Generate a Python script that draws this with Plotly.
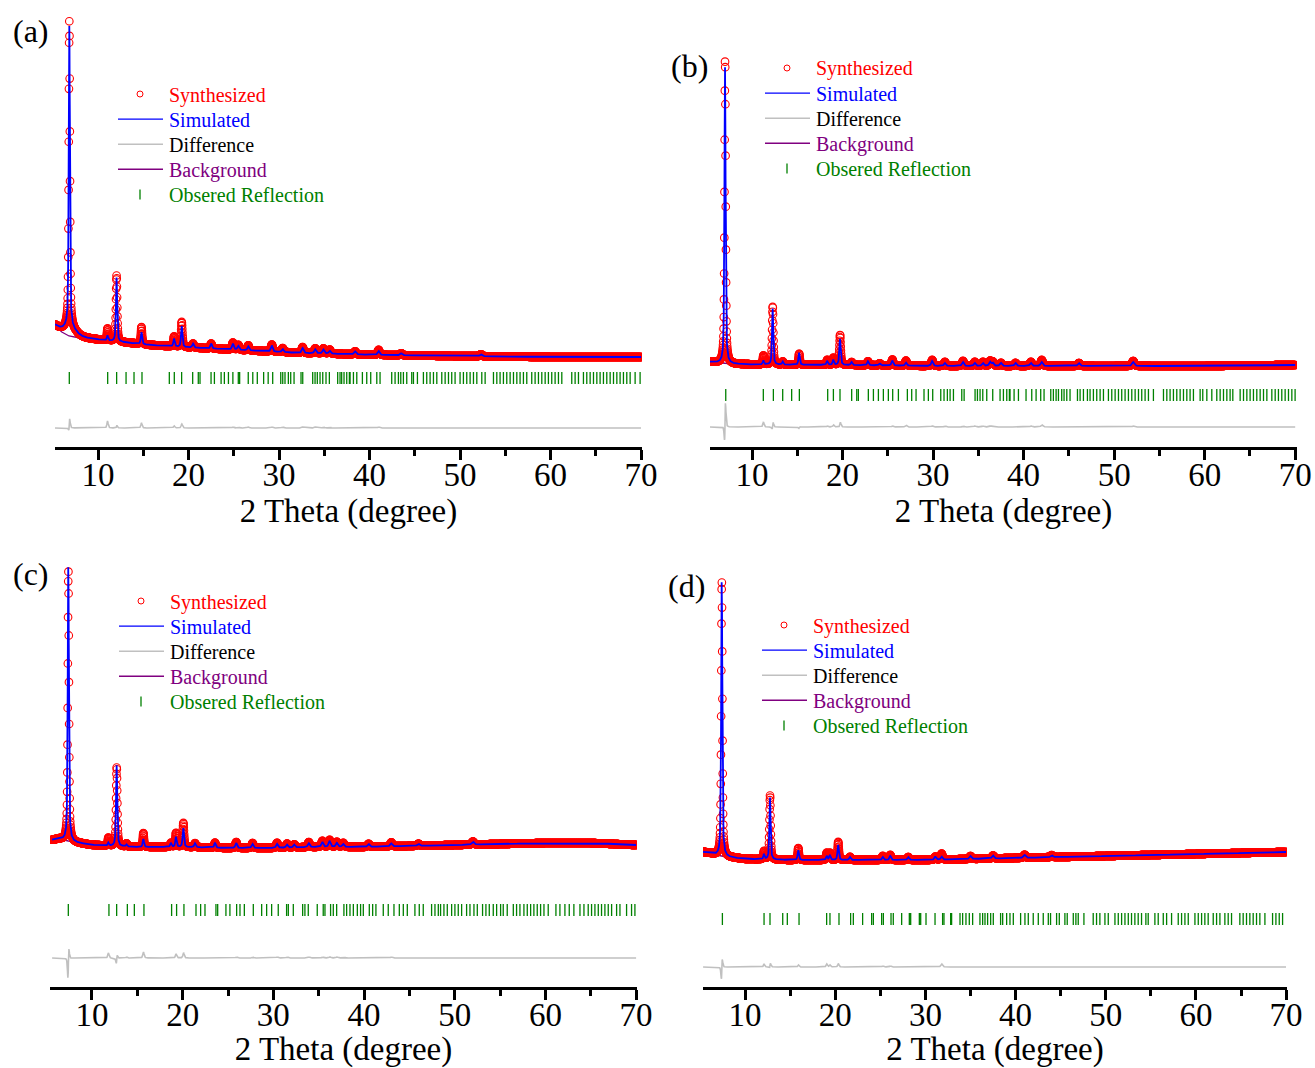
import numpy as np
import plotly.graph_objects as go

FONT = "Liberation Serif"
W, H = 1315, 1068

# ---------------- Panel (a) ----------------
a_range = [5.25, 70.0]
a_bg_x = [5.25, 6.0, 6.8, 8.0, 10.2, 12.4, 15.7, 19.1, 23.5, 27.9, 32.3, 36.7, 41.2, 48.9, 60.0, 70.0]
a_bg_y = [121, 115, 111, 109, 107, 105, 102, 100, 98, 96, 94, 93, 92, 91, 90, 90]
a_pk_pos = [6.83, 6.9, 11.05, 12.05, 14.8, 18.4, 19.25, 20.5, 22.5, 24.9, 25.5, 26.6, 29.2, 30.4, 32.6, 34.0, 34.9, 35.6, 38.4, 41.0, 43.5, 52.3]
a_pk_obs = [306, 9, 12, 66, 17, 10, 25, 4, 5, 7, 5, 5, 7, 4, 6, 5, 5, 4, 3, 5, 2, 2]
a_pk_calc = [301, 9, 5, 64, 12, 8, 21, 4, 5, 6, 4, 4, 6, 3, 5, 4, 4, 3, 3, 4, 2, 2]
a_pk_fwhm = [0.15, 1.6, 0.16, 0.16, 0.17, 0.18, 0.18, 0.2, 0.2, 0.22, 0.22, 0.22, 0.24, 0.24, 0.25, 0.25, 0.25, 0.25, 0.26, 0.27, 0.28, 0.3]
a_shift = 0.002
a_diff_offset = 19
a_tick_row = 69
a_refl = [6.83, 11.07, 12.06, 13.1, 13.98, 14.86, 17.88, 18.43, 19.24, 20.46, 21.08, 21.27, 22.49, 22.86,
          23.6, 23.96, 24.41, 24.9, 25.5, 25.65, 26.6, 27.1, 27.6, 28.3, 28.8, 29.3, 30.19, 30.41, 30.66,
          31.03, 31.29, 31.66, 32.43, 32.62, 33.72, 33.98, 34.23, 34.53, 34.83, 35.19, 35.56, 36.48, 36.74,
          36.92, 37.18, 37.48, 37.77, 37.85, 38.22, 38.59, 39.21, 39.69, 40.13, 40.8, 41.16, 42.45, 42.82,
          43.19, 43.45, 43.74, 44.11, 44.66, 44.85, 45.29, 45.95, 46.32, 46.69, 47.06, 47.43, 47.98, 48.35,
          48.72, 49.08, 49.45, 50.0, 50.37, 50.74, 51.11, 51.48, 51.85, 52.4, 52.77, 53.69, 54.06, 54.42,
          54.79, 55.16, 55.53, 55.9, 56.27, 56.63, 57.0, 57.37, 57.92, 58.29, 58.66, 59.03, 59.4, 59.76,
          60.13, 60.5, 60.87, 61.24, 62.34, 62.71, 63.08, 63.63, 64.0, 64.37, 64.74, 65.11, 65.47, 65.84,
          66.21, 66.58, 66.95, 67.32, 67.68, 68.05, 68.42, 68.79, 69.34, 69.89]

# ---------------- Panel (b) ----------------
b_range = [5.36, 70.0]
b_bg_x = [5.36, 6.5, 8.0, 10.0, 20.0, 30.0, 40.0, 50.0, 60.0, 70.0]
b_bg_y = [85, 84, 83, 82.5, 82, 81, 81, 81, 81, 82]
b_pk_pos = [7.02, 11.25, 12.28, 13.39, 15.2, 18.3, 18.98, 19.72, 21.0, 22.8, 24.1, 25.5, 27.0, 29.9, 31.3, 33.3, 34.6, 35.5, 36.3, 36.6, 37.5, 39.1, 40.8, 42.0, 46.1, 52.1]
b_pk_obs = [304, 9, 58, 3, 11, 5, 7, 30, 3, 4, 2, 6, 5, 6, 4, 5, 4, 4, 5, 4, 3, 3, 4, 6, 3, 5]
b_pk_calc = [296, 4, 56, 3, 12, 4, 5, 26, 3, 4, 2, 5, 3, 5, 3, 4, 3, 3, 4, 3, 3, 3, 3, 4, 3, 4]
b_pk_fwhm = [0.15, 0.16, 0.16, 0.17, 0.17, 0.18, 0.18, 0.18, 0.2, 0.2, 0.22, 0.22, 0.22, 0.24, 0.24, 0.25, 0.25, 0.25, 0.25, 0.25, 0.26, 0.26, 0.27, 0.27, 0.28, 0.3]
b_shift = 0.007
b_diff_offset = 20
b_tick_row = 52
b_refl = [7.1, 11.25, 12.36, 13.39, 14.38, 15.23, 18.36, 18.99, 19.72, 21.01, 21.57, 21.75, 22.85, 23.41,
          23.96, 24.51, 25.06, 25.54, 26.17, 27.16, 27.64, 28.12, 29.0, 29.48, 29.96, 30.85, 31.21, 31.58,
          31.88, 32.25, 33.17, 33.43, 34.64, 34.9, 35.19, 35.49, 35.93, 36.59, 37.4, 37.77, 38.14, 38.43,
          38.5, 38.95, 39.43, 40.27, 40.9, 41.38, 41.89, 42.26, 43.0, 43.29, 43.59, 43.85, 44.21, 44.47,
          44.77, 45.13, 45.95, 46.24, 46.61, 47.05, 47.34, 47.71, 48.08, 48.45, 48.82, 49.37, 49.74, 50.11,
          50.48, 50.84, 51.21, 51.58, 51.95, 52.32, 52.69, 53.05, 53.42, 53.79, 54.34, 55.45, 55.82, 56.18,
          56.55, 56.92, 57.29, 57.66, 58.03, 58.39, 58.76, 59.5, 59.79, 60.24, 60.79, 61.34, 61.71, 62.08,
          62.45, 62.81, 63.11, 63.92, 64.29, 64.66, 65.02, 65.39, 65.76, 66.13, 66.5, 66.87, 67.42, 67.79,
          68.15, 68.52, 68.89, 69.26, 69.63, 69.99]

# ---------------- Panel (c) ----------------
c_range = [5.6, 70.0]
c_bg_x = [5.6, 6.4, 7.4, 8.5, 10.0, 12.0, 15.0, 20.0, 25.0, 30.0, 35.0, 40.0, 45.0, 50.0, 55.0, 60.0, 65.0, 70.0]
c_bg_y = [147, 148, 146, 144, 142, 141, 140, 140, 139, 139, 140, 140, 141, 142, 143, 144, 144, 142]
c_pk_pos = [7.39, 11.8, 12.72, 13.8, 15.66, 18.7, 19.26, 20.07, 21.36, 23.56, 25.9, 27.7, 30.4, 31.5, 32.3, 33.9, 35.4, 36.2, 37.0, 37.7, 40.5, 43.0, 46.0, 52.0]
c_pk_obs = [270, 8, 79, 3, 14, 4, 14, 24, 4, 5, 6, 5, 5, 4, 3, 5, 6, 7, 5, 4, 3, 4, 2, 3]
c_pk_calc = [278, 3, 81, 2, 8, 4, 10, 19, 4, 5, 5, 4, 4, 3, 3, 4, 5, 6, 4, 3, 3, 3, 2, 3]
c_pk_fwhm = [0.15, 0.16, 0.16, 0.17, 0.17, 0.18, 0.18, 0.18, 0.2, 0.2, 0.22, 0.22, 0.24, 0.24, 0.24, 0.25, 0.25, 0.25, 0.25, 0.26, 0.27, 0.27, 0.28, 0.3]
c_shift = 0.006
c_diff_offset = 29
c_tick_row = 77
c_refl = [7.39, 11.87, 12.72, 13.9, 14.67, 15.73, 18.78, 19.33, 20.14, 21.47, 21.98, 22.46, 23.67, 23.86,
          24.77, 25.21, 25.95, 26.32, 26.8, 27.79, 28.71, 29.26, 29.81, 30.54, 31.46, 31.65, 32.2, 33.23,
          33.48, 33.85, 34.84, 35.5, 35.69, 36.31, 36.61, 36.98, 37.78, 38.08, 38.45, 38.82, 39.26, 39.62,
          39.92, 40.58, 40.95, 41.31, 42.12, 42.67, 43.3, 43.89, 44.33, 44.77, 45.61, 46.09, 46.53, 47.45,
          47.82, 48.19, 48.44, 48.81, 49.18, 49.66, 50.02, 50.39, 50.76, 51.31, 51.68, 52.12, 52.49, 53.07,
          53.44, 53.81, 54.25, 54.62, 55.06, 55.35, 55.79, 56.46, 56.82, 57.19, 57.63, 58.0, 58.37, 58.73,
          59.1, 59.47, 59.84, 60.31, 61.16, 61.6, 62.15, 62.63, 63.14, 63.81, 64.25, 64.72, 65.09, 65.46,
          65.83, 66.19, 66.56, 66.93, 67.3, 67.85, 68.22, 68.95, 69.5, 69.87]

# ---------------- Panel (d) ----------------
d_range = [5.35, 70.0]
d_bg_x = [5.35, 6.0, 6.8, 8.0, 10.0, 15.0, 20.0, 30.0, 40.0, 50.0, 60.0, 70.0]
d_bg_y = [135, 134, 132, 130, 128, 127, 127, 127, 129, 131, 133, 135]
d_pk_pos = [7.42, 12.1, 12.77, 15.9, 19.06, 19.4, 20.33, 21.64, 25.27, 26.1, 28.1, 31.1, 31.8, 35.0, 37.5, 41.0, 44.0]
d_pk_obs = [275, 8, 64, 12, 7, 7, 18, 3, 4, 5, 3, 3, 6, 3, 3, 3, 2]
d_pk_calc = [278, 5, 62, 10, 4, 5, 15, 3, 3, 4, 3, 3, 3, 3, 3, 3, 2]
d_pk_fwhm = [0.15, 0.16, 0.16, 0.17, 0.18, 0.18, 0.18, 0.2, 0.22, 0.22, 0.23, 0.24, 0.24, 0.25, 0.26, 0.27, 0.28]
d_shift = 0.004
d_diff_offset = 20
d_tick_row = 68
d_refl = [7.49, 12.11, 12.77, 14.18, 14.69, 15.99, 19.05, 19.42, 20.42, 21.71, 22.01, 23.04, 24.04, 24.23,
          25.15, 25.34, 26.19, 26.44, 27.37, 28.22, 28.37, 29.33, 29.48, 30.07, 31.07, 31.91, 32.06, 32.8,
          32.91, 33.84, 34.13, 34.5, 34.87, 35.24, 36.05, 36.35, 36.61, 36.9, 37.24, 37.53, 38.34, 38.57,
          39.01, 39.38, 39.75, 40.56, 41.04, 41.41, 41.96, 42.52, 43.07, 43.63, 43.88, 44.55, 44.85, 45.47,
          45.73, 46.4, 46.69, 46.95, 47.58, 48.61, 48.98, 49.35, 49.91, 50.28, 51.02, 51.39, 51.76, 52.13,
          52.5, 52.86, 53.23, 53.6, 53.97, 54.45, 54.71, 55.45, 55.82, 56.38, 56.75, 57.3, 58.04, 58.41,
          58.78, 59.15, 59.89, 60.26, 60.63, 60.99, 61.36, 61.92, 62.29, 62.66, 63.21, 63.58, 63.95, 64.87,
          65.24, 65.61, 65.98, 66.35, 66.72, 67.09, 67.65, 68.5, 68.87, 69.24, 69.61]

legend_labels = ["Synthesized", "Simulated", "Difference", "Background", "Obsered Reflection"]
legend_colors = ["#ff0000", "#0000ff", "#000000", "#800080", "#008000"]

STEP = 0.02
ETA = 0.6

panels = [
    dict(rng=a_range, bgx=a_bg_x, bgy=a_bg_y, pos=a_pk_pos, obs=a_pk_obs, calc=a_pk_calc,
         fw=a_pk_fwhm, shift=a_shift, doff=a_diff_offset, trow=a_tick_row, refl=a_refl,
         xdom=(55, 642), ydom=(10, 447), axrange=[5.25, 70.1], label="(a)", lab_xy=(11, 31),
         leg=(118, 94)),
    dict(rng=b_range, bgx=b_bg_x, bgy=b_bg_y, pos=b_pk_pos, obs=b_pk_obs, calc=b_pk_calc,
         fw=b_pk_fwhm, shift=b_shift, doff=b_diff_offset, trow=b_tick_row, refl=b_refl,
         xdom=(710, 1297), ydom=(10, 447), axrange=[5.36, 70.2], label="(b)", lab_xy=(669, 66),
         leg=(765, 68)),
    dict(rng=c_range, bgx=c_bg_x, bgy=c_bg_y, pos=c_pk_pos, obs=c_pk_obs, calc=c_pk_calc,
         fw=c_pk_fwhm, shift=c_shift, doff=c_diff_offset, trow=c_tick_row, refl=c_refl,
         xdom=(50, 637), ydom=(550, 987), axrange=[5.37, 70.1], label="(c)", lab_xy=(11, 574),
         leg=(119, 601)),
    dict(rng=d_range, bgx=d_bg_x, bgy=d_bg_y, pos=d_pk_pos, obs=d_pk_obs, calc=d_pk_calc,
         fw=d_pk_fwhm, shift=d_shift, doff=d_diff_offset, trow=d_tick_row, refl=d_refl,
         xdom=(703, 1287), ydom=(550, 987), axrange=[5.34, 70.1], label="(d)", lab_xy=(666, 586),
         leg=(762, 625)),
]


def pv(x, p, h, w):
    hw = w / 2.0
    lor = 1.0 / (1.0 + ((x - p) / hw) ** 2)
    gau = np.exp(-np.log(2) * ((x - p) / hw) ** 2)
    return h * (ETA * lor + (1 - ETA) * gau)


def px(xp):
    return xp / W


def py(yp):
    return 1 - yp / H


fig = go.Figure()
layout = dict(width=W, height=H, margin=dict(l=0, r=0, t=0, b=0), plot_bgcolor="white",
              paper_bgcolor="white", showlegend=False, annotations=[], shapes=[])

for i, p in enumerate(panels):
    n = i + 1
    xa = "x" if n == 1 else f"x{n}"
    ya = "y" if n == 1 else f"y{n}"
    x = np.arange(p["rng"][0], p["rng"][1] + 1e-9, STEP)
    bg = np.interp(x, p["bgx"], p["bgy"])
    obs = bg.copy()
    calc = bg.copy()
    for pp, ho, hc, w in zip(p["pos"], p["obs"], p["calc"], p["fw"]):
        obs += pv(x, pp + p["shift"], ho, w)
        calc += pv(x, pp, hc, w)
    diff = obs - calc + p["doff"]
    refl = np.array(p["refl"])

    common = dict(xaxis=xa, yaxis=ya)
    fig.add_trace(go.Scatter(x=refl, y=np.full(len(refl), p["trow"]), mode="markers",
                             marker=dict(symbol="line-ns", size=8.6, line=dict(color="#008000", width=1.3)),
                             name="Obsered Reflection", **common))
    fig.add_trace(go.Scatter(x=x, y=diff, mode="lines", line=dict(color="#c0c0c0", width=1.6),
                             name="Difference", **common))
    fig.add_trace(go.Scatter(x=p["bgx"], y=p["bgy"], mode="lines", line=dict(color="#800080", width=1.3),
                             name="Background", **common))
    fig.add_trace(go.Scatter(x=x, y=obs, mode="markers",
                             marker=dict(symbol="circle-open", size=7.6, color="red", line=dict(width=1.1, color="red")),
                             name="Synthesized", **common))
    fig.add_trace(go.Scatter(x=x, y=calc, mode="lines", line=dict(color="#0000ff", width=1.8),
                             name="Simulated", **common))

    x0, x1 = p["xdom"]
    ytop, ybot = p["ydom"]
    layout["xaxis" if n == 1 else f"xaxis{n}"] = dict(
        domain=[px(x0), px(x1)], anchor=ya, range=p["axrange"], showline=True, linecolor="black",
        linewidth=3, ticks="outside", ticklen=10, tickwidth=2.5, tickcolor="black", tick0=0, dtick=10,
        ticklabelstandoff=-14,
        tickfont=dict(family=FONT, size=33, color="black"), showgrid=False, zeroline=False,
        minor=dict(dtick=5, tick0=0, ticks="outside", ticklen=6, tickwidth=2.5, tickcolor="black"),
        title=dict(text="2 Theta (degree)", font=dict(family=FONT, size=33, color="black"), standoff=0),
        automargin=False)
    layout["yaxis" if n == 1 else f"yaxis{n}"] = dict(
        domain=[py(ybot), py(ytop)], anchor=xa, range=[0, ybot - ytop], visible=False,
        automargin=False)

    # panel label
    lbx, lby = p["lab_xy"]
    layout["annotations"].append(dict(text=p["label"], x=px(lbx), y=py(lby), xref="paper", yref="paper",
                                      xanchor="left", yanchor="middle", showarrow=False,
                                      font=dict(family=FONT, size=32, color="black")))
    # legend
    lx, ly = p["leg"]
    for k, (lab, col) in enumerate(zip(legend_labels, legend_colors)):
        yy = ly + 25.1 * k
        layout["annotations"].append(dict(text=lab, x=px(lx + 49), y=py(yy + 1), xref="paper", yref="paper",
                                          xanchor="left", yanchor="middle", showarrow=False,
                                          font=dict(family=FONT, size=20, color=col)))
        cx = lx + 22
        if k == 0:
            layout["shapes"].append(dict(type="circle", xref="paper", yref="paper",
                                         x0=px(cx - 3), x1=px(cx + 3), y0=py(yy + 3), y1=py(yy - 3),
                                         line=dict(color="red", width=1)))
        elif k == 4:
            layout["shapes"].append(dict(type="line", xref="paper", yref="paper",
                                         x0=px(cx), x1=px(cx), y0=py(yy + 5), y1=py(yy - 5),
                                         line=dict(color="#008000", width=1.3)))
        else:
            lc = ["", "#0000ff", "#c0c0c0", "#800080"][k]
            layout["shapes"].append(dict(type="line", xref="paper", yref="paper",
                                         x0=px(lx), x1=px(lx + 45), y0=py(yy), y1=py(yy),
                                         line=dict(color=lc, width=1.4)))

fig.update_layout(**layout)
fig.write_html("out.html", config={"displayModeBar": False},
               post_script="document.body.style.margin='0px';document.body.style.overflow='hidden';")
